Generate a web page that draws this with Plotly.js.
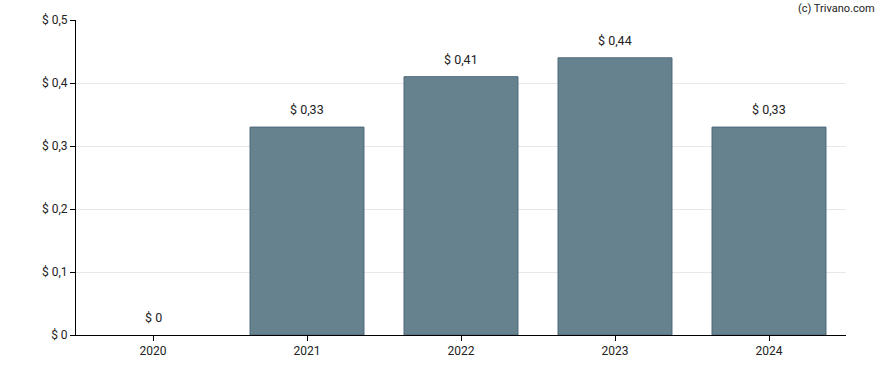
<!DOCTYPE html>
<html><head><meta charset="utf-8">
<script src="https://cdn.plot.ly/plotly-3.0.1.min.js"></script>
<style>body{margin:0;background:#fff}</style>
</head><body>
<div id="chart" style="width:888px;height:370px"></div>
<script>
const years = ["2020", "2021", "2022", "2023", "2024"];
const values = [0, 0.33, 0.41, 0.44, 0.33];
const labels = ["$ 0", "$ 0,33", "$ 0,41", "$ 0,44", "$ 0,33"];
const yTickVals = [0, 0.1, 0.2, 0.3, 0.4, 0.5];
const yTickText = ["$ 0", "$ 0,1", "$ 0,2", "$ 0,3", "$ 0,4", "$ 0,5"];

const idx = years.map((_, i) => i);
const valueNotes = idx.map(i => ({
  x: i, y: values[i], xref: "x", yref: "y",
  text: labels[i], showarrow: false,
  xanchor: "center", yanchor: "bottom", yshift: 8,
  font: {size: 12.5, color: "#222"}
}));

Plotly.newPlot("chart", [{
  type: "bar",
  x: idx,
  y: values,
  marker: {color: "#67828f", line: {color: values.map(v => v > 0 ? "#4d6779" : "rgba(0,0,0,0)"), width: 1}},
  width: 0.74,
  hoverinfo: "none"
}], {
  width: 888, height: 370,
  margin: {l: 76, r: 42, t: 20, b: 35},
  paper_bgcolor: "#fff", plot_bgcolor: "#fff",
  font: {family: "Roboto, Arial, sans-serif", size: 12, color: "#222"},
  showlegend: false,
  xaxis: {
    type: "linear", range: [-0.5, years.length - 0.5],
    tickvals: idx, ticktext: years,
    showline: true, linecolor: "#000", linewidth: 1,
    ticks: "outside", ticklen: 5, tickcolor: "#000",
    showgrid: false, zeroline: false,
    tickfont: {size: 12, color: "#222"}
  },
  yaxis: {
    range: [0, 0.5],
    tickvals: yTickVals, ticktext: yTickText,
    showline: true, linecolor: "#000", linewidth: 1,
    ticks: "outside", ticklen: 5, tickcolor: "#000",
    showgrid: true, gridcolor: "#e8e8e8", gridwidth: 1,
    zeroline: false,
    tickfont: {size: 12, color: "#222"}
  },
  annotations: valueNotes.concat([{
    text: "(c) Trivano.com", xref: "paper", yref: "paper",
    x: 1.04, y: 1.0, xanchor: "right", yanchor: "bottom", yshift: 3,
    showarrow: false, font: {size: 11, color: "#222"}
  }])
}, {displayModeBar: false, staticPlot: true});
</script>
</body></html>
